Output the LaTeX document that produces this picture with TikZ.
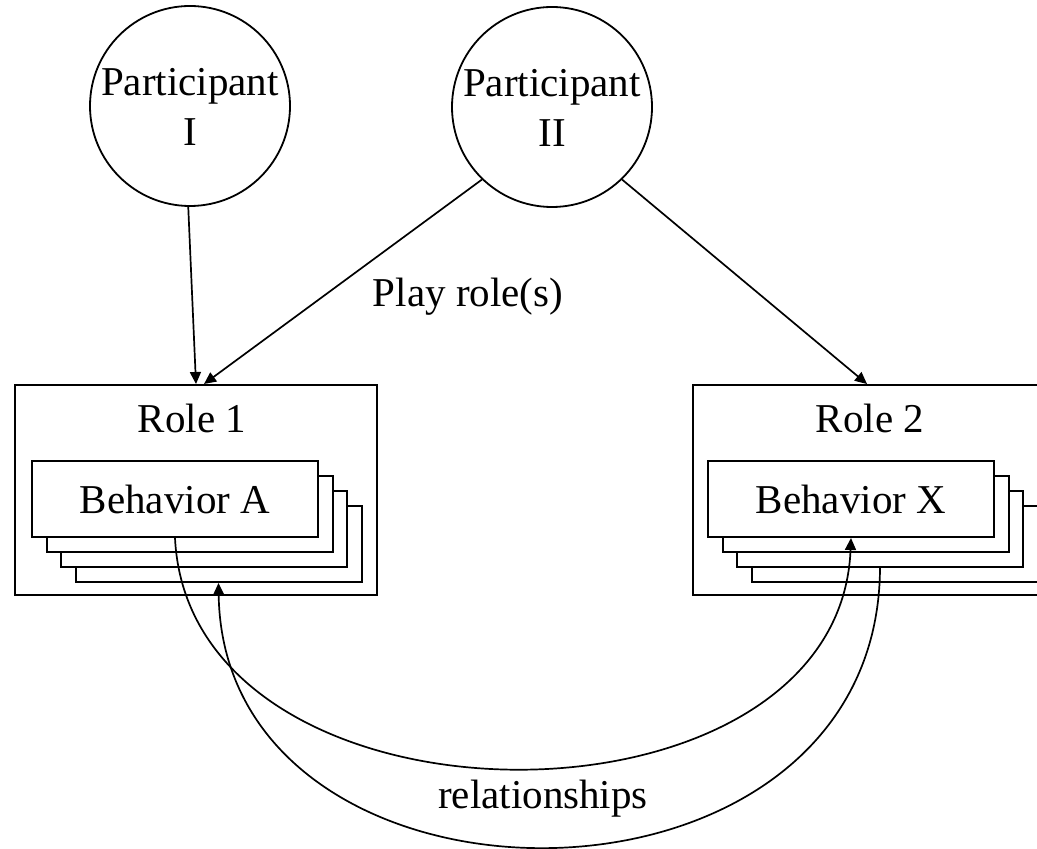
\documentclass[tikz,border=0pt]{standalone}
\usepackage{fontspec}
\setmainfont{Liberation Serif}
\usetikzlibrary{arrows.meta}

\begin{document}
\begin{tikzpicture}[x=0.5pt,y=-0.5pt,
    every node/.style={font=\fontsize{20.5}{25}\selectfont},
    part/.style={draw,circle,line width=0.9pt,minimum size=100pt,inner sep=0pt},
    rolebox/.style={draw,line width=1pt,minimum width=181pt,minimum height=105pt,inner sep=0pt},
    behbox/.style={draw,fill=white,line width=1pt,minimum width=143pt,minimum height=38pt,inner sep=0pt},
    conn/.style={line width=0.85pt,-{Triangle[length=6pt,width=5.5pt]}}]
          \useasboundingbox (0,0) rectangle (1037,849);
          \clip (0,0) rectangle (1037,849);
          \def\dx{14.5} \def\dy{15}

          \node[part] (p1) at (190,106) {};
          \node[align=center] (p1txt) at (190,107) {Participant\\I};
          \node[part] (p2) at (552,107) {};
          \node[align=center] (p2txt) at (552,108) {Participant\\II};

          \node[rolebox] (role1) at (196,490) {};
          \node (role1txt) at (192,418) {Role 1};
          \node[rolebox] (role2) at (874,490) {};
          \node (role2txt) at (870,418) {Role 2};

          \foreach \k in {3,2,1} {
            \node[behbox] (behA\k) at (175+\k*\dx,499+\k*\dy) {};
            \node[behbox] (behX\k) at (851+\k*\dx,499+\k*\dy) {};
          }
          \node[behbox] (behA) at (175,499) {Behavior A};
          \node[behbox] (behX) at (851,499) {Behavior X};

          \draw[conn] (p1.-91) -- (role1.north);
          \draw[conn] (p2.226) -- ([xshift=4pt]role1.north);
          \draw[conn] (p2.-46) -- ([xshift=-3.5pt]role2.north);
          \node (play) at (468,297) {Play role(s)};

          \draw[conn] (behA.south) .. controls +(15,307) and +(-12,307) .. (behX.south);
          \draw[conn] (behX2.south) .. controls +(-2,370) and +(5,353) .. (behA3.south);
          \node (rel) at (543,799) {relationships};
\end{tikzpicture}
\end{document}
